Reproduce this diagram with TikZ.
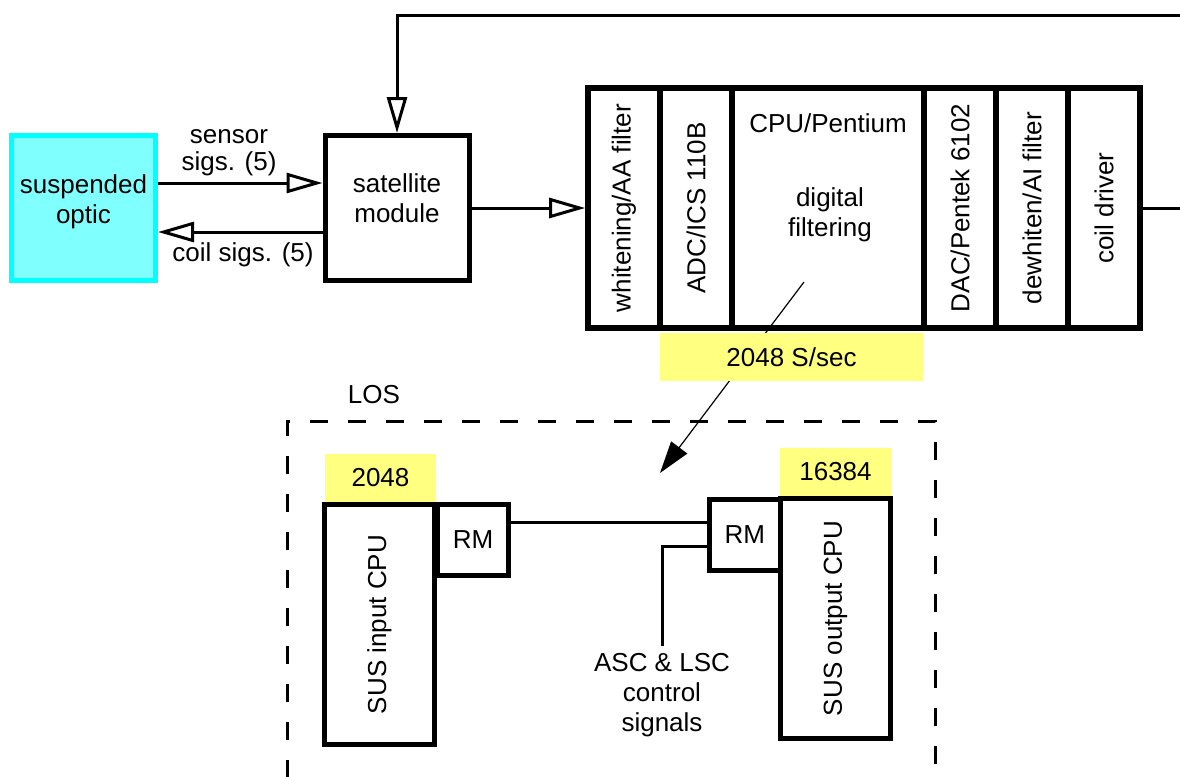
\documentclass[tikz,border=0pt]{standalone}
\usepackage{fontspec}
\setmainfont{Liberation Sans}
\usepackage{tikz}
\usetikzlibrary{arrows.meta}
\usetikzlibrary{calc}
\definecolor{opticcyan}{HTML}{00FFFF}
\definecolor{opticfill}{HTML}{80FFFF}
\definecolor{rateyellow}{HTML}{FFFF80}
\begin{document}
\begin{tikzpicture}[x=0.5pt,y=-0.5pt,
	every node/.style={font=\fontsize{13pt}{15pt}\selectfont},
	box/.style={draw,line width=2.5pt,rectangle,inner sep=0pt},
	cell/.style={draw,line width=2.8pt,rectangle,inner sep=0pt,rotate=90,minimum width=120pt,minimum height=36pt},
	rate/.style={fill=rateyellow,rectangle,inner sep=0pt,minimum width=55.5pt,minimum height=24pt},
	sig/.style={line width=1.5pt,-{Triangle[open,length=18pt,width=10pt]}},
	wire/.style={line width=1.5pt},
	txt/.style={align=center}]
	\useasboundingbox (0,0) rectangle (1180,777);
	\node[box,draw=opticcyan,fill=opticfill,minimum width=72pt,minimum height=72.5pt] (OPTIC) at (83.5,208) {};
	\node[txt] (OPTIC_TEXT) at (83.5,202) {suspended\\optic};
	\node[box,minimum width=72pt,minimum height=72.5pt] (SATELLITE) at (397,208) {};
	\node[txt] (SATELLITE_TEXT) at (397,198) {satellite\\module};
	\node[txt] (SENSOR_TEXT) at (229,153) {sensor\\[-1.5pt]sigs. (5)};
	\node[txt] (COIL_TEXT) at (243,255) {coil sigs. (5)};
	\node[cell] (WHITENING) at (624,208) {whitening/AA filter};
	\node[cell] (ADC) at (696,208) {ADC/ICS 110B};
	\node[box,line width=2.8pt,minimum width=96pt,minimum height=120pt] (CPU) at (828,208) {};
	\node[cell] (DAC) at (960,208) {DAC/Pentek 6102};
	\node[cell] (DEWHITEN) at (1032,208) {dewhiten/AI filter};
	\node[cell] (COIL_DRIVER) at (1104,208) {coil driver};
	\node (CPU_TEXT) at (828,123.5) {CPU/Pentium};
	\node[txt] (FILTER_TEXT) at (830,215) {digital\\filtering};
	\coordinate (FEEDBACK) at (1180,15);
	\coordinate (OUTPUT) at (1180,208);
	\draw[sig] ([yshift=12.5pt]OPTIC.east) -- ([yshift=12.5pt]SATELLITE.west);
	\draw[sig] ([yshift=-12pt]SATELLITE.west) -- ([yshift=-12pt]OPTIC.east);
	\draw[sig] (SATELLITE.east) -- (WHITENING);
	\draw[wire] (COIL_DRIVER) -- (OUTPUT);
	\draw[sig] (FEEDBACK) -| (SATELLITE.north);
	% sample rate
	\coordinate (FILTER_OUT) at (804,282);
	\coordinate (LOS_IN) at (660,473);
	\draw[line width=0.6pt,-{Triangle[length=16pt,width=10pt]}] (FILTER_OUT) -- (LOS_IN);
	\node[rate,minimum width=131.5pt] (RATE) at (791.5,357) {2048 S/sec};
	% LOS
	\node (LOS_TEXT) at (374,395) {LOS};
	\node[draw,rectangle,line width=1.5pt,dash pattern=on 9pt off 10pt,minimum width=324pt,minimum height=189.5pt] (LOS) at (611,610.5) {};
	\node[rate] (RATE_IN) at (380.5,478) {2048};
	\node[box,rotate=90,minimum width=120pt,minimum height=55pt] (SUS_IN) at (379.5,624.5) {SUS input CPU};
	\node[box,minimum width=35.5pt,minimum height=35.5pt] (RM_IN) at (473,540) {RM};
	\node[rate] (RATE_OUT) at (835.5,472) {16384};
	\node[box,rotate=90,minimum width=120pt,minimum height=55pt] (SUS_OUT) at (835.5,618.5) {SUS output CPU};
	\node[box,minimum width=35.75pt,minimum height=35.5pt] (RM_OUT) at (744.75,534.5) {RM};
	\node[txt] (CONTROL_TEXT) at (662,695) {ASC \& LSC\\control\\signals};
	\draw[wire] ([yshift=9pt]RM_IN.east) -- ([yshift=9pt]RM_IN.east -| RM_OUT.west);
	\draw[wire] ([yshift=-5.75pt]RM_OUT.west) -| (CONTROL_TEXT.north);
\end{tikzpicture}
\end{document}
